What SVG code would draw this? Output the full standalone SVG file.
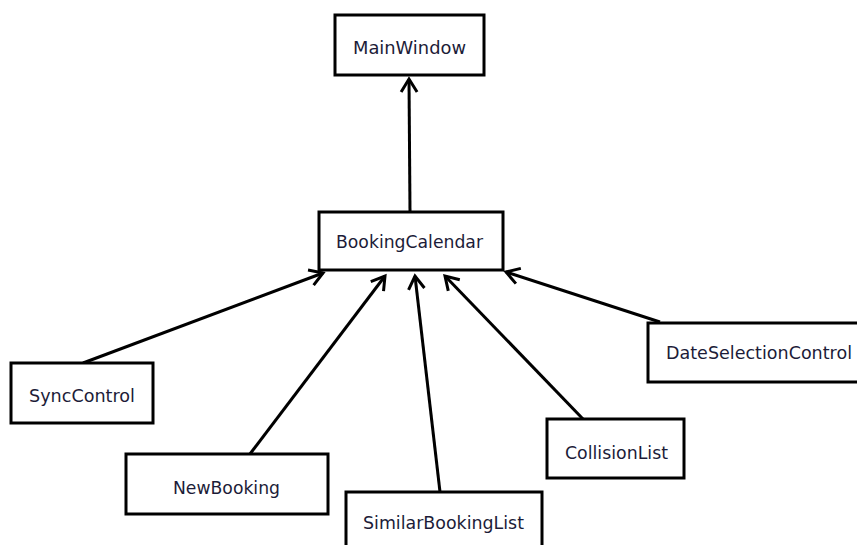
<svg xmlns="http://www.w3.org/2000/svg" width="857" height="545" viewBox="0 0 857 545">
  <style>
    .box { fill: #ffffff; stroke: #000000; stroke-width: 3; }
    .lbl { font-family: "DejaVu Sans", "Liberation Sans", sans-serif; font-size: 17.5px; fill: #1c1c38; text-anchor: middle; }
    .edge { stroke: #000000; stroke-width: 3; fill: none; marker-end: url(#arr); }
  </style>
  <defs>
    <marker id="arr" markerUnits="userSpaceOnUse" markerWidth="30" markerHeight="30" viewBox="-15 -15 30 30" refX="0" refY="0" orient="auto">
      <path d="M-13,-8 L0,0 L-13,8" fill="none" stroke="#000000" stroke-width="3" stroke-linejoin="miter"/>
    </marker>
  </defs>
  <rect width="857" height="545" fill="#ffffff"/>

  <g id="connectors">
    <line class="edge" x1="410" y1="212" x2="409" y2="79"/>
    <line class="edge" x1="83" y1="363" x2="323" y2="273"/>
    <line class="edge" x1="250" y1="454" x2="385" y2="276"/>
    <line class="edge" x1="440" y1="492" x2="415" y2="276"/>
    <line class="edge" x1="583" y1="419" x2="445" y2="276"/>
    <line class="edge" x1="660" y1="322" x2="506" y2="272"/>
  </g>

  <g id="MainWindow">
    <rect class="box" x="335" y="15" width="149" height="60"/>
    <text class="lbl" x="409.5" y="54" textLength="113" lengthAdjust="spacingAndGlyphs">MainWindow</text>
  </g>
  <g id="BookingCalendar">
    <rect class="box" x="319" y="212" width="184" height="58"/>
    <text class="lbl" x="409.5" y="248" textLength="147" lengthAdjust="spacingAndGlyphs">BookingCalendar</text>
  </g>
  <g id="SyncControl">
    <rect class="box" x="11" y="363" width="142" height="60"/>
    <text class="lbl" x="82" y="402" textLength="106" lengthAdjust="spacingAndGlyphs">SyncControl</text>
  </g>
  <g id="DateSelectionControl">
    <rect class="box" x="648" y="323" width="222" height="59"/>
    <text class="lbl" x="759" y="359" textLength="186" lengthAdjust="spacingAndGlyphs">DateSelectionControl</text>
  </g>
  <g id="NewBooking">
    <rect class="box" x="126" y="454" width="202" height="60"/>
    <text class="lbl" x="226.5" y="494" textLength="107" lengthAdjust="spacingAndGlyphs">NewBooking</text>
  </g>
  <g id="SimilarBookingList">
    <rect class="box" x="346" y="492" width="196" height="70"/>
    <text class="lbl" x="443.5" y="529" textLength="161" lengthAdjust="spacingAndGlyphs">SimilarBookingList</text>
  </g>
  <g id="CollisionList">
    <rect class="box" x="547" y="419" width="137" height="59"/>
    <text class="lbl" x="616.5" y="459" textLength="103" lengthAdjust="spacingAndGlyphs">CollisionList</text>
  </g>
</svg>
